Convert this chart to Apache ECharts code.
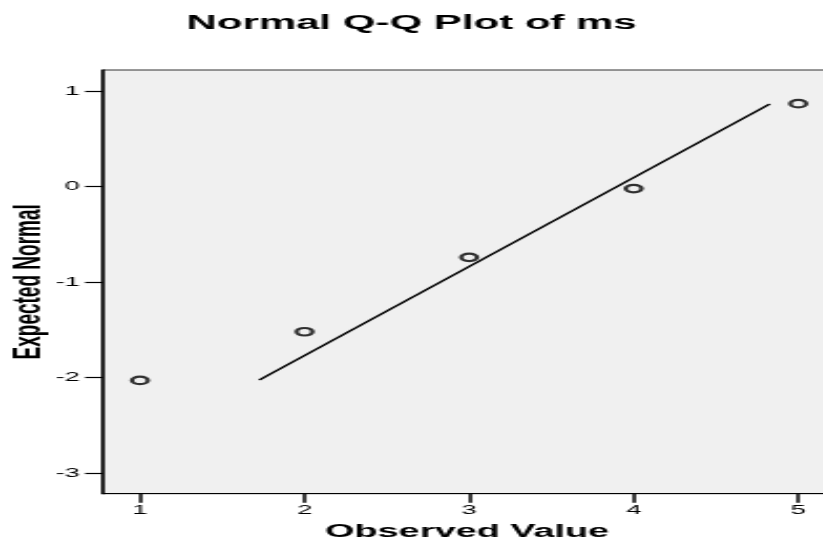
<!DOCTYPE html>
<html>
<head>
<meta charset="utf-8">
<script src="https://cdn.jsdelivr.net/npm/echarts@6/dist/echarts.min.js"></script>
<style>
  html, body { margin: 0; padding: 0; background: #fff; overflow: hidden; }
  #wrap { width: 823px; height: 541px; overflow: hidden; position: relative; }
  /* The reference is an SPSS chart stretched horizontally; reproduce that stretch */
  #chart { width: 391.9px; height: 541px; transform-origin: 0 0; transform: scaleX(2.1); }
</style>
</head>
<body>
<div id="wrap"><div id="chart"></div></div>
<script>
// ---- data ----
const titleText = 'Normal Q-Q Plot of ms';
const xName = 'Observed Value';
const yName = 'Expected Normal';
const observed = [1, 2, 3, 4, 5];
const expectedNormal = [-2.03, -1.52, -0.74, -0.02, 0.87];
const lineX = [1.725, 4.827];
const lineY = [-2.026, 0.867];
const xTicks = [1, 2, 3, 4, 5];
const yTicks = [-3, -2, -1, 0, 1];

const font = '"Liberation Sans", Arial, Helvetica, sans-serif';
const chart = echarts.init(document.getElementById('chart'), null, { renderer: 'canvas' });

const points = observed.map((x, i) => [x, expectedNormal[i]]);
const linePts = lineX.map((x, i) => [x, lineY[i]]);

chart.setOption({
  animation: false,
  backgroundColor: '#ffffff',
  title: {
    text: titleText,
    left: 'center',
    top: 8,
    textStyle: { fontFamily: font, fontWeight: 'bold', fontSize: 20, color: '#000' }
  },
  grid: {
    left: 49, top: 70, width: 346.8, height: 423.7,
    outerBoundsMode: 'none', containLabel: false,
    show: true, backgroundColor: '#f0f0f0', borderColor: '#333', borderWidth: 1
  },
  xAxis: {
    type: 'value', min: 0.775, max: 5.2,
    name: xName, nameLocation: 'middle', nameGap: 29, nameMoveOverlap: false,
    nameTextStyle: { fontFamily: font, fontWeight: 'bold', fontSize: 18, color: '#000' },
    axisLine: { show: true, onZero: false, lineStyle: { color: '#000', width: 1 } },
    axisTick: { show: true, customValues: xTicks, length: 9, lineStyle: { color: '#000', width: 1.5 } },
    axisLabel: { customValues: xTicks, margin: 10, fontFamily: font, fontSize: 13, color: '#000' },
    splitLine: { show: false }
  },
  yAxis: {
    type: 'value', min: -3.217, max: 1.223,
    name: yName, nameLocation: 'middle', nameGap: 26, nameRotate: 90, nameMoveOverlap: false,
    nameTextStyle: { fontFamily: font, fontWeight: 'bold', fontSize: 19, color: '#000' },
    axisLine: { show: true, onZero: false, lineStyle: { color: '#000', width: 1.5 } },
    axisTick: { show: true, customValues: yTicks, length: 8.5, lineStyle: { color: '#000', width: 1.2 } },
    axisLabel: { customValues: yTicks, margin: 11, fontFamily: font, fontSize: 13, color: '#000' },
    splitLine: { show: false }
  },
  series: [
    {
      type: 'line',
      data: linePts,
      showSymbol: false,
      lineStyle: { color: '#000', width: 1.4 },
      z: 2
    },
    {
      type: 'scatter',
      data: points,
      symbol: 'circle',
      symbolSize: 7.5,
      itemStyle: { color: 'rgba(0,0,0,0)', borderColor: '#000', borderWidth: 2.2 },
      z: 3
    }
  ]
});
</script>
</body>
</html>
